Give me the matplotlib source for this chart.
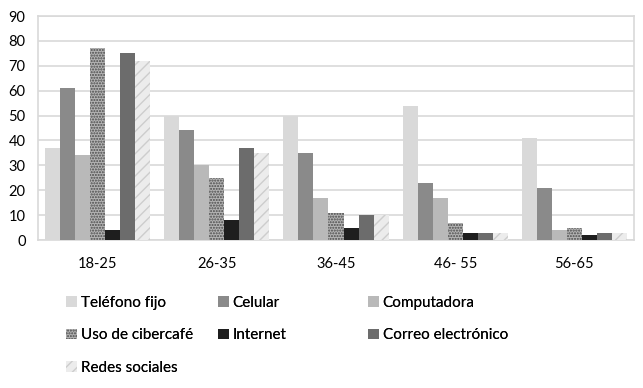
import matplotlib.pyplot as plt
import numpy as np

plt.rcParams["font.family"] = ["Lato", "DejaVu Sans"]

GROUPS = ["18-25", "26-35", "36-45", "46- 55", "56-65"]
SERIES = ["Teléfono fijo", "Celular", "Computadora", "Uso de cibercafé",
          "Internet", "Correo electrónico", "Redes sociales"]

telefono = [37, 50, 50, 54, 41]
celular = [61, 44, 35, 23, 21]
computadora = [34, 30, 17, 17, 4]
cibercafe = [77, 25, 11, 7, 5]
internet = [4, 8, 5, 3, 2]
correo = [75, 37, 10, 3, 3]
redes = [72, 35, 10, 3, 3]

VALUES = [telefono, celular, computadora, cibercafe, internet, correo, redes]
STYLES = [
    dict(color="#d9d9d9"),
    dict(color="#8a8a8a"),
    dict(color="#b9b9b9"),
    dict(facecolor="#b4b4b4", hatch="......", edgecolor="#4a4a4a", linewidth=0),
    dict(color="#1e1e1e"),
    dict(color="#6c6c6c"),
    dict(facecolor="#ececec", hatch="///", edgecolor="#cdcdcd", linewidth=0),
]

fig = plt.figure(figsize=(6.43, 3.88), dpi=100)
ax = fig.add_axes([38 / 643, 1 - 240 / 388, 596 / 643, 224 / 388])

x = np.arange(len(GROUPS))
width = 0.126
handles = []
for i, (vals, style) in enumerate(zip(VALUES, STYLES)):
    offs = (i - 3) * width
    bars = ax.bar(x + offs, vals, width, label=SERIES[i], zorder=3, **style)
    handles.append(bars)

ax.set_xlim(-0.5, len(GROUPS) - 0.5)
ax.set_ylim(0, 90)
ax.set_yticks(range(0, 91, 10))
ax.set_xticks(x)
ax.set_xticklabels(GROUPS)
ax.tick_params(axis="both", length=0, labelsize=10.5, colors="#000000")
ax.tick_params(axis="x", pad=12)
ax.tick_params(axis="y", pad=9)
ax.yaxis.grid(True, color="#d9d9d9", linewidth=1.2, zorder=0)
for s in ax.spines.values():
    s.set_color("#d9d9d9")
    s.set_linewidth(1.2)

columns = [[0, 3, 6], [1, 4], [2, 5]]
col_x = [66 / 643, 218 / 643, 368 / 643]
for cx, idx in zip(col_x, columns):
    leg = fig.legend([handles[i] for i in idx], [SERIES[i] for i in idx],
                     loc="upper left", bbox_to_anchor=(cx, 1 - 296 / 388),
                     frameon=False, fontsize=11, handlelength=0.7,
                     handleheight=0.7, handletextpad=0.25, labelspacing=1.2,
                     borderpad=0, borderaxespad=0)
    fig.add_artist(leg)

fig.savefig("out.png", dpi=100)
